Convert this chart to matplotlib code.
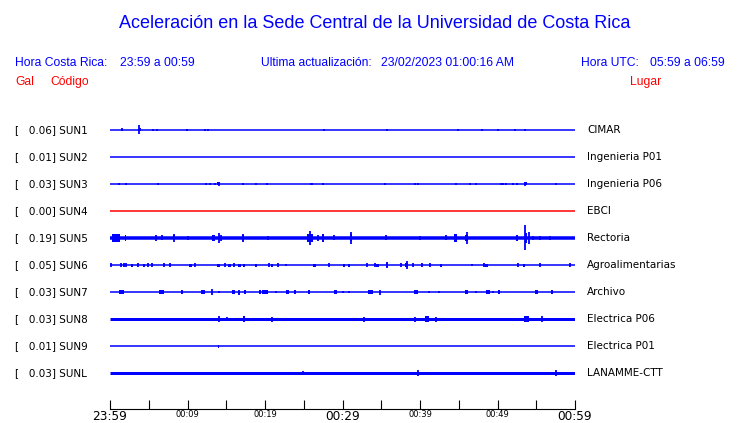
import matplotlib
matplotlib.use("Agg")
import matplotlib.pyplot as plt

# --- data ------------------------------------------------------------------
stations = ["SUN1", "SUN2", "SUN3", "SUN4", "SUN5",
            "SUN6", "SUN7", "SUN8", "SUN9", "SUNL"]
peaks = [0.06, 0.01, 0.03, 0.00, 0.19, 0.05, 0.03, 0.03, 0.01, 0.03]
places = ["CIMAR", "Ingenieria P01", "Ingenieria P06", "EBCI", "Rectoria",
          "Agroalimentarias", "Archivo", "Electrica P06", "Electrica P01",
          "LANAMME-CTT"]
trace_colors = ["blue", "blue", "blue", "red", "blue",
                "blue", "blue", "blue", "blue", "blue"]
# background noise band (px)
noise = [1, 1, 1, 1, 3.5, 1, 1, 3, 1, 3]

# events: (minute after 23:59, half amplitude px, duration s)
ev_sun1 = [(1.6, 1.5, 0), (3.7, 4.5, 0), (3.85, 1.5, 20), (5.6, 1.3, 0),
           (6.1, 1, 0), (9.9, 1.3, 15), (12.3, 1, 0), (12.7, 1.3, 0),
           (27.6, 1.3, 0), (35.8, 1.3, 0), (44.9, 1, 0), (48.0, 1.3, 0),
           (50.1, 1.3, 0), (52.2, 1, 0), (53.6, 1, 0)]
ev_sun2 = []
ev_sun3 = [(1.16, 1.3, 15), (2.06, 1.3, 15), (6.24, 1, 0), (12.4, 1, 0),
           (12.9, 1.3, 0), (13.5, 1, 0), (14.0, 2.3, 0), (14.0, 1.5, 20),
           (17.2, 1.3, 15), (18.8, 0.8, 0), (20.2, 1.3, 0), (26.0, 1.3, 30),
           (27.5, 1.3, 15), (35.5, 1.3, 0), (39.3, 1.3, 0), (39.8, 1, 0),
           (44.7, 0.8, 0), (46.4, 1.3, 0), (47.2, 1, 0), (50.4, 1.3, 0),
           (50.7, 1, 0), (51.1, 1, 0), (52.0, 1, 0), (52.5, 1.3, 15),
           (53.6, 2.3, 0), (53.6, 1.5, 20), (57.6, 1, 0)]
ev_sun4 = []
ev_sun5 = [(0.75, 3.6, 65), (2.0, 2.7, 10), (5.9, 2.7, 0), (6.7, 2.5, 0),
           (8.2, 3.6, 0), (8.2, 2.5, 15), (10.1, 2.3, 0), (13.4, 3, 25),
           (14.0, 4.7, 0), (14.3, 3, 0), (17.2, 4.3, 0), (17.2, 2.8, 15),
           (20.4, 2.3, 0), (25.8, 7.3, 0), (25.8, 4, 40), (26.9, 3, 0),
           (27.5, 4.3, 10), (28.9, 2.5, 0), (31.1, 6.3, 0), (31.1, 3.5, 15),
           (35.6, 2.5, 0), (40.0, 2.0, 0), (43.4, 2.5, 0), (44.6, 4.3, 25),
           (46.0, 5.7, 0), (46.0, 3, 20), (52.5, 2.7, 20), (53.5, 12.5, 0),
           (53.7, 5, 15), (54.0, 6.3, 0), (54.6, 2.3, 0), (55.5, 2.3, 0),
           (56.8, 2.3, 0)]
ev_sun6 = [(0.09, 1.7, 0), (1.38, 1.7, 0), (1.81, 1.7, 0), (2.11, 1.7, 0),
           (2.8, 1.5, 18), (3.66, 1.7, 0), (4.43, 1.5, 18), (4.95, 1.7, 0),
           (5.46, 1.7, 0), (7.0, 1.7, 0), (7.8, 1.7, 0), (10.4, 1.5, 18),
           (11.0, 1.7, 0), (14.0, 1.5, 18), (14.9, 1.7, 0), (15.4, 1.5, 18),
           (16.0, 1.7, 0), (16.7, 1.5, 18), (17.3, 1.5, 18), (18.8, 1.5, 18),
           (20.5, 1.7, 0), (20.9, 1.5, 18), (21.7, 1.7, 0), (22.7, 1, 0),
           (26.4, 1.5, 18), (28.2, 1.7, 0), (30.2, 1.5, 18), (30.8, 1.5, 18),
           (33.1, 1.7, 0), (34.2, 1.7, 0), (34.5, 1.5, 18), (35.7, 3, 0),
           (35.7, 1.7, 15), (37.5, 1.7, 0), (38.3, 4, 0), (38.3, 2, 25),
           (39.1, 1.7, 0), (40.3, 1.7, 0), (41.3, 1.7, 0), (42.7, 1.5, 18),
           (46.7, 1, 0), (48.2, 1.7, 0), (48.6, 1.5, 18), (52.7, 1.7, 0),
           (53.4, 1.5, 18), (55.5, 1.7, 0), (59.3, 1.7, 0)]
ev_sun7 = [(1.5, 2, 40), (6.67, 2, 40), (9.3, 1.7, 15), (12.0, 2, 35),
           (13.1, 3, 0), (14.0, 1, 0), (15.9, 1.7, 20), (16.7, 2.5, 0),
           (16.7, 1.5, 15), (17.4, 1.7, 15), (19.4, 1.7, 15), (20.0, 2, 45),
           (21.4, 1, 0), (22.9, 1.7, 25), (23.9, 1.7, 15), (25.7, 1.7, 15),
           (29.1, 1.7, 20), (30.0, 1, 0), (30.9, 1, 0), (33.6, 2, 40),
           (34.8, 2.5, 0), (39.5, 2, 30), (41.1, 1, 0), (42.4, 1, 0),
           (46.0, 1.7, 20), (47.2, 1, 0), (48.8, 2, 30), (49.4, 1, 0),
           (50.2, 1.7, 15), (55.0, 1.7, 20), (57.0, 1.7, 15)]
ev_sun8 = [(14.0, 2.7, 0), (15.05, 2.3, 0), (17.3, 2.7, 15), (20.9, 2.5, 0),
           (32.8, 2.5, 0), (39.3, 2.5, 0), (40.9, 2.7, 25), (42.0, 2.5, 0),
           (53.75, 2.7, 40), (55.8, 2.7, 0)]
ev_sun9 = [(14.0, 1.5, 10)]
ev_sunl = [(24.9, 2.2, 0), (39.8, 2.7, 0), (57.5, 2.7, 0)]
events = [ev_sun1, ev_sun2, ev_sun3, ev_sun4, ev_sun5,
          ev_sun6, ev_sun7, ev_sun8, ev_sun9, ev_sunl]

tick_labels = ["23:59", "00:09", "00:19", "00:29", "00:39", "00:49", "00:59"]

# --- figure ----------------------------------------------------------------
W, H = 740, 423
fig = plt.figure(figsize=(W / 100, H / 100), dpi=100)
BLUE = "#0000ff"
RED = "#ff0000"
hdr = dict(family="Liberation Sans", fontsize=8.7, va="baseline")

fig.text(375 / W, 1 - 28 / H, "Aceleración en la Sede Central de la Universidad de Costa Rica",
         ha="center", va="baseline", color=BLUE, family="Liberation Sans", fontsize=13)

fig.text(15 / W, 1 - 66 / H, "Hora Costa Rica:", color=BLUE, **hdr)
fig.text(120 / W, 1 - 66 / H, "23:59 a 00:59", color=BLUE, **hdr)
fig.text(261 / W, 1 - 66 / H, "Ultima actualización:", color=BLUE, **hdr)
fig.text(381 / W, 1 - 66 / H, "23/02/2023 01:00:16 AM", color=BLUE, **hdr)
fig.text(581 / W, 1 - 66 / H, "Hora UTC:", color=BLUE, **hdr)
fig.text(650 / W, 1 - 66 / H, "05:59 a 06:59", color=BLUE, **hdr)
fig.text(15 / W, 1 - 85 / H, "Gal", color=RED, **hdr)
fig.text(50 / W, 1 - 85 / H, "Código", color=RED, **hdr)
fig.text(630 / W, 1 - 85 / H, "Lugar", color=RED, **hdr)

# traces
SP = 27  # px between traces
left, width = 110 / W, 465 / W
ax = fig.add_axes([left, (H - 386.5) / H, width, 270 / H])
ax.set_xlim(0, 60)
ax.set_ylim(-9.5 * SP, 0.5 * SP)
ax.axis("off")

for i, st in enumerate(stations):
    y = -i * SP
    c = trace_colors[i]
    ax.hlines(y, 0, 60, color=c, lw=max(noise[i] * 0.72, 1.1), capstyle="butt")
    for t, a, d in events[i]:
        if d == 0:
            ax.vlines(t, y - a, y + a, color=c, lw=1.3)
        else:
            ax.bar(t, 2 * a, width=d / 60, bottom=y - a, color=c, lw=0)
    row = 130 + i * SP
    fig.text(15 / W, 1 - row / H, "[%7.2f] %s" % (peaks[i], st),
             va="center", ha="left", fontsize=7.5, color="black")
    fig.text(587 / W, 1 - row / H, places[i],
             va="center", ha="left", fontsize=7.5, color="black")

# time axis
axt = fig.add_axes([left, (H - 409) / H, width, 0.0001])
axt.set_xlim(0, 60)
axt.set_yticks([])
for s in ["left", "right", "top"]:
    axt.spines[s].set_visible(False)
axt.spines["bottom"].set_linewidth(0.8)
axt.set_xticks(range(0, 61, 10))
axt.set_xticks(range(5, 60, 10), minor=True)
axt.set_xticklabels(tick_labels)
axt.tick_params(axis="x", which="both", direction="in", length=6.5, width=0.8, pad=1)
for k, lbl in enumerate(axt.get_xticklabels()):
    lbl.set_fontsize(8.7 if k in (0, 3, 6) else 6)

fig.savefig("out.png", dpi=100)
